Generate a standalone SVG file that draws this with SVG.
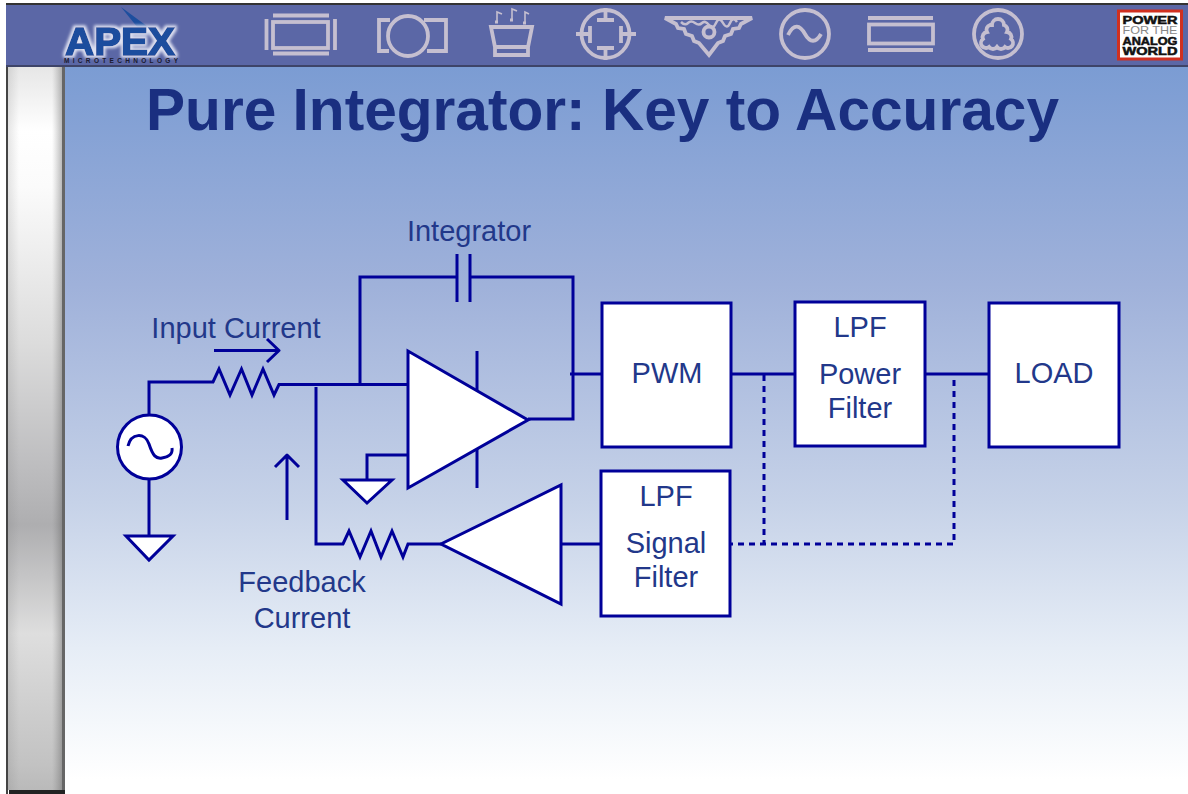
<svg xmlns="http://www.w3.org/2000/svg" width="1188" height="794" viewBox="0 0 1188 794">
<style>
.w{fill:none;stroke:#000099;stroke-width:3}
.a{fill:none;stroke:#000099;stroke-width:3;stroke-linejoin:round}
.d{fill:none;stroke:#000099;stroke-width:3;stroke-dasharray:6 5}
.n{fill:#fff;stroke:#000099;stroke-width:3}
.t{font-family:"Liberation Sans",Arial,sans-serif;font-size:29px;fill:#22388a;text-anchor:middle}
.i{fill:none;stroke:#c5bfd0;stroke-width:3.8}
</style>
<defs>
<linearGradient id="bg" x1="0" y1="0" x2="0" y2="1">
<stop offset="0" stop-color="#7b9cd3"/><stop offset=".3" stop-color="#9fb1da"/><stop offset=".6" stop-color="#c6d2e8"/><stop offset=".8" stop-color="#e6edf6"/><stop offset=".98" stop-color="#ffffff"/>
</linearGradient>
<linearGradient id="bar" x1="0" y1="66" x2="0" y2="794" gradientUnits="userSpaceOnUse">
<stop offset="0" stop-color="#e6e6e6"/><stop offset=".09" stop-color="#ffffff"/><stop offset=".165" stop-color="#fbfbfb"/><stop offset=".38" stop-color="#dcdcdc"/><stop offset=".55" stop-color="#bdbdbf"/><stop offset=".63" stop-color="#aeaeb0"/><stop offset=".78" stop-color="#dedede"/><stop offset=".96" stop-color="#c2c2c2"/><stop offset="1" stop-color="#b8b8b8"/>
</linearGradient>
<linearGradient id="edge" x1="0" y1="0" x2="1" y2="0">
<stop offset="0" stop-color="#777" stop-opacity=".18"/><stop offset=".2" stop-color="#777" stop-opacity="0"/><stop offset=".8" stop-color="#777" stop-opacity="0"/><stop offset="1" stop-color="#555" stop-opacity=".45"/>
</linearGradient>
<filter id="soft" x="-5%" y="-20%" width="110%" height="140%"><feGaussianBlur stdDeviation=".5"/></filter>
<filter id="halo" x="-10%" y="-20%" width="120%" height="140%">
<feMorphology in="SourceAlpha" operator="dilate" radius="1.5" result="m"/>
<feGaussianBlur in="m" stdDeviation="1.5" result="b"/>
<feFlood flood-color="#dfe2f2"/>
<feComposite in2="b" operator="in" result="h"/>
<feMerge><feMergeNode in="h"/><feMergeNode in="SourceGraphic"/></feMerge>
</filter>
</defs>
<rect width="1188" height="794" fill="#fff"/>
<rect x="64" y="66" width="1124" height="728" fill="url(#bg)"/>
<rect x="8" y="66" width="55" height="724" fill="url(#bar)"/>
<rect x="8" y="66" width="55" height="724" fill="url(#edge)"/>
<rect x="62" y="66" width="3" height="724" fill="#666"/>
<rect x="6" y="66" width="2" height="728" fill="#444"/>
<rect x="9" y="790" width="56" height="4" fill="#222"/>
<rect x="6" y="4" width="1182" height="62" fill="#5b67a6"/>
<rect x="6" y="3" width="1182" height="2" fill="#333"/>
<rect x="6" y="65" width="1182" height="2" fill="#3e4468"/>

<g id="header-icons" filter="url(#soft)">
<path class="i" d="M273 15.500h56M273 53.500h56M266.500 19v31M335 19v31"/><rect class="i" x="273" y="22" width="55" height="26"/>
<circle class="i" cx="408" cy="36" r="20"/><path class="i" d="M390 20h-11v31h10M424 20h22v31h-19"/>
<path class="i" d="M491 27h41l-4 20h-33zM495 47h33v8h-33z"/><path d="M497 22v-10l5 2M512 20v-11l5 2M525 23v-11l4 2" fill="none" stroke="#c5bfd0" stroke-width="1.6"/><path d="M495 22h3M510 20h3M523 23h3" stroke="#c5bfd0" stroke-width="3"/>
<circle class="i" cx="605.500" cy="34" r="24"/><path class="i" d="M605.500 8v12M597 20h17M605.500 48v12M597 48h17M576 34h14M590 26v17M621 34h15M621 26v17"/>
<path class="i" d="M665 18H752L741 24 739 28 733 29 731 34 725 36 723 41 718 43 709 55 699 43 694 41 692 36 686 34 684 29 678 28 676 24Z"/><path d="M681 22q4 4 7 1t7 0 7 0 7 2 7-2 7 0 7 0 7-1" fill="none" stroke="#c5bfd0" stroke-width="2.500"/><circle class="i" cx="709" cy="32" r="5.500"/>
<circle class="i" cx="805" cy="34" r="24"/><path class="i" d="M788 35c6-12 12-10 17-1s11 9 16 0"/>
<path class="i" d="M868 18h65M868 50h65"/><rect class="i" x="869" y="24.500" width="64" height="19"/>
<circle class="i" cx="998" cy="34" r="24"/><path class="i" d="M992 25a6 6 0 0 1 12 0a5 5 0 0 1 3 7a5 5 0 0 1 4 7a5 5 0 0 1 1 7a5 5 0 0 1-7 1a5 5 0 0 1-8 0a5 5 0 0 1-8 0a5 5 0 0 1-7-1a5 5 0 0 1 1-7a5 5 0 0 1 4-7a5 5 0 0 1 3-7z"/>
</g>
<g id="apex-logo">
<path d="M121 7l38 28-17-2z" fill="#1d4e9e"/>
<text x="120" y="55" filter="url(#halo)" font-family="'Liberation Sans',Arial,sans-serif" font-size="38" font-weight="700" fill="#1d4e9e" stroke="#1d4e9e" stroke-width="1.600" text-anchor="middle" textLength="110" lengthAdjust="spacingAndGlyphs">APEX</text>
<text x="121" y="62.500" font-family="'Liberation Sans',Arial,sans-serif" font-size="6.500" font-weight="700" fill="#1a1a30" text-anchor="middle" textLength="114">MICROTECHNOLOGY</text>
</g>
<g id="power-logo">
<rect x="1118.500" y="11" width="63" height="48" fill="#fff" stroke="#d03020" stroke-width="3"/>
<g font-family="'Liberation Sans',Arial,sans-serif" text-anchor="middle" font-size="10.500">
<text x="1150" y="24" font-weight="700" fill="#111" stroke="#111" stroke-width=".5" textLength="55" lengthAdjust="spacingAndGlyphs">POWER</text>
<text x="1150" y="34" fill="#888" textLength="55" lengthAdjust="spacingAndGlyphs">FOR THE</text>
<text x="1150" y="45" font-weight="700" fill="#111" stroke="#111" stroke-width=".5" textLength="55" lengthAdjust="spacingAndGlyphs">ANALOG</text>
<text x="1150" y="55" font-weight="700" fill="#111" stroke="#111" stroke-width=".5" textLength="55" lengthAdjust="spacingAndGlyphs">WORLD</text>
</g>
</g>
<text id="title" x="602.500" y="130" font-family="'Liberation Sans',Arial,sans-serif" font-size="59" font-weight="700" fill="#1a2f80" text-anchor="middle" textLength="913" lengthAdjust="spacingAndGlyphs">Pure Integrator: Key to Accuracy</text>

<g id="connectors">
<path class="w" d="M149 415V382H213L219 369 230 395 241.500 369 252 395 263 369 274 395 279 384.500H408"/>
<path class="w" d="M360 385V277H456M470 277H573V419H528"/>
<path class="w" d="M570 374H602"/>
<path class="w" d="M316 387V544H343L349 531 360 557 371 531 381 557 392 531 403 557 408 544H441"/>
<path class="w" d="M561 544H601"/>
<path class="w" d="M731 374H795M925 374H989"/>
<path class="d" d="M764 375V544M954 380V544H730"/>
<path class="w" d="M149 479V535"/>
<path class="w" d="M367 489V455H408"/>
<path class="a" d="M214 350.500H279M267 339l12 11.500-12 11.500"/>
<path class="a" d="M287 520V456M275 467l12-12 12 12"/>
<path class="w" d="M457 254V302M470 254V302"/>
<path class="w" d="M477 351V392M477 447V488"/>
</g>

<g id="source"><circle class="n" cx="149.500" cy="447" r="32"/><path class="w" d="M128 446c3-13 17-14 21-2s7 15 13 14 11-3 10-10"/></g>
<g id="ground-1"><path class="n" d="M126 536H173L149 560Z"/></g>
<g id="ground-2"><path class="n" d="M343 480H392L367 503Z"/></g>
<g id="integrator-amp"><path class="n" d="M408 351V488L528 420Z"/></g>
<g id="feedback-amp"><path class="n" d="M561 485V604L441 544Z"/></g>
<g id="pwm"><rect class="n" x="602" y="303" width="129" height="144"/><text class="t" x="667" y="383">PWM</text></g>
<g id="power-filter"><rect class="n" x="795" y="302" width="130" height="144"/><text class="t" x="860" y="337">LPF</text><text class="t" x="860" y="384">Power</text><text class="t" x="860" y="418">Filter</text></g>
<g id="load"><rect class="n" x="989" y="303" width="130" height="144"/><text class="t" x="1054" y="383">LOAD</text></g>
<g id="signal-filter"><rect class="n" x="601" y="471" width="129" height="145"/><text class="t" x="666" y="506">LPF</text><text class="t" x="666" y="553">Signal</text><text class="t" x="666" y="587">Filter</text></g>
<text class="t" x="469" y="241">Integrator</text>
<text class="t" x="236" y="338">Input Current</text>
<text class="t" x="302" y="592">Feedback</text>
<text class="t" x="302" y="628">Current</text>
</svg>
